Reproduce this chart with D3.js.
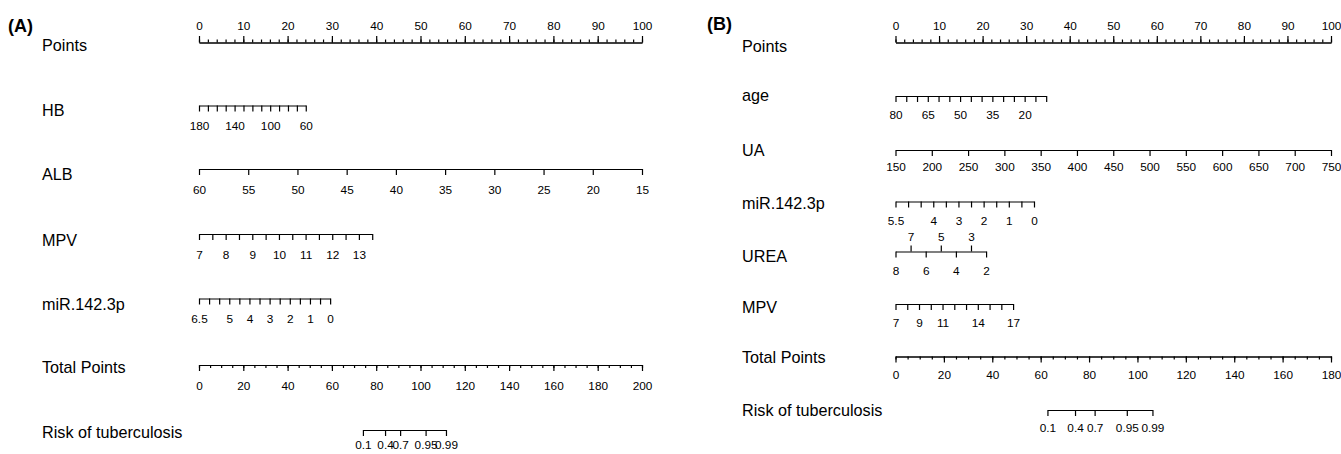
<!DOCTYPE html>
<html><head><meta charset="utf-8">
<script src="https://cdn.jsdelivr.net/npm/d3@7"></script>
<style>
body{margin:0;background:#fff;}
svg text{font-family:"Liberation Sans",Arial,sans-serif;fill:#000;}
</style></head><body><svg id="c" width="1341" height="454"></svg>
<script>
// ---------- Panel A data ----------
const aPointsLabels=[0,10,20,30,40,50,60,70,80,90,100];
const aHbTicks=[180,170,160,150,140,130,120,110,100,90,80,70,60];
const aHbLabels=[180,140,100,60];
const aHbPoints=[0,24.1];
const aAlbTicks=[60,55,50,45,40,35,30,25,20,15];
const aAlbLabels=[60,55,50,45,40,35,30,25,20,15];
const aAlbPoints=[0,100];
const aMpvTicks=[7,7.5,8,8.5,9,9.5,10,10.5,11,11.5,12,12.5,13,13.5];
const aMpvLabels=[7,8,9,10,11,12,13];
const aMpvPoints=[0,39.1];
const aMirTicks=[6.5,6,5.5,5,4.5,4,3.5,3,2.5,2,1.5,1,0.5,0];
const aMirLabels=[6.5,5,4,3,2,1,0];
const aMirPoints=[0,29.6];
const aTotalLabels=[0,20,40,60,80,100,120,140,160,180,200];
const aRiskLabels=["0.1","0.4","0.7","0.95","0.99"];
const aRiskTotal=[74,84,90.8,102.3,111.5];

// ---------- Panel B data ----------
const bPointsLabels=[0,10,20,30,40,50,60,70,80,90,100];
const bAgeTicks=[80,75,70,65,60,55,50,45,40,35,30,25,20,15,10];
const bAgeLabels=[80,65,50,35,20];
const bAgePoints=[0,34.6];
const bUaTicks=[150,200,250,300,350,400,450,500,550,600,650,700,750];
const bUaLabels=[150,200,250,300,350,400,450,500,550,600,650,700,750];
const bUaPoints=[0,100];
const bMirTicks=[5.5,5,4.5,4,3.5,3,2.5,2,1.5,1,0.5,0];
const bMirLabels=[5.5,4,3,2,1,0];
const bMirPoints=[0,31.8];
const bUreaTicksDown=[8,6,4,2];
const bUreaTicksUp=[7,5,3];
const bUreaPoints=[0,20.8];
const bMpvTicks=[7,8,9,10,11,12,13,14,15,16,17];
const bMpvLabels=[7,9,11,14,17];
const bMpvPoints=[0,27];
const bTotalLabels=[0,20,40,60,80,100,120,140,160,180];
const bRiskLabels=["0.1","0.4","0.7","0.95","0.99"];
const bRiskTotal=[62.8,74.2,82.3,95.6,106.2];

const svg=d3.select("#c");
const INK="#000";

function style(g){
  g.selectAll("path,line").attr("stroke",INK).attr("stroke-width",1.2);
  g.selectAll("text").attr("fill",INK).attr("font-size",11.8)
   .attr("font-family","'Liberation Sans',Arial,sans-serif");
  return g;
}
function label(x,y,t,size=16.2){
  svg.append("text").attr("x",x).attr("y",y).attr("dominant-baseline","central")
    .attr("font-size",size).attr("fill","#111").text(t);
}
function varAxis(y,scale,ticks,labels,up,pad){
  const ax=(up?d3.axisTop:d3.axisBottom)(scale).tickValues(ticks).tickSize(6)
    .tickSizeOuter(0).tickPadding(pad).tickFormat(d=>labels.includes(d)?String(d):"");
  const g=svg.append("g").attr("transform",`translate(0,${y})`).call(ax);
  style(g);
  return g;
}
function valScale(pts,v0,v1,pp){
  return d3.scaleLinear().domain([v0,v1]).range([pts(pp[0]),pts(pp[1])]);
}

function panel(cfg){
  const pts=d3.scaleLinear().domain([0,100]).range([cfg.x0,cfg.x1]);
  const tot=d3.scaleLinear().domain([0,cfg.totalMax]).range([cfg.x0,cfg.x1]);
  svg.append("text").attr("x",cfg.tagX).attr("y",cfg.tagY).attr("dominant-baseline","central")
    .attr("font-size",18).attr("font-weight","bold").text(cfg.tag);
  // Points axis (ticks up)
  const gm=svg.append("g").attr("transform",`translate(0,${cfg.rows[0]})`)
    .call(d3.axisTop(pts).tickValues(d3.range(0,101,2)).tickSize(3).tickSizeOuter(0).tickFormat(""));
  style(gm);
  const gp=svg.append("g").attr("transform",`translate(0,${cfg.rows[0]})`)
    .call(d3.axisTop(pts).tickValues(cfg.pointsLabels).tickSize(6.5).tickSizeOuter(0).tickPadding(6));
  style(gp);
  label(cfg.labX,cfg.labY[0],"Points");
  cfg.vars.forEach((v,i)=>{
    const y=cfg.rows[i+1];
    const s=valScale(pts,v.ticks[0],v.ticks[v.ticks.length-1],v.points);
    const pad=v.pad!==undefined?v.pad:cfg.pad;
    if(v.up){
      varAxis(y,s,v.ticks,v.ticks,false,pad);
      const g2=varAxis(y,s.copy(),v.up,v.up,true,5);
      g2.select(".domain").remove();
    } else {
      varAxis(y,s,v.ticks,v.labels,false,pad);
    }
    label(cfg.labX,cfg.labY[i+1],v.name);
  });
  // Total points
  const yT=cfg.rows[cfg.vars.length+1];
  const gt1=svg.append("g").attr("transform",`translate(0,${yT})`)
    .call(d3.axisBottom(tot).tickValues(d3.range(0,cfg.totalMax+1,5)).tickSize(3).tickSizeOuter(0).tickFormat(""));
  style(gt1);
  const gt2=svg.append("g").attr("transform",`translate(0,${yT})`)
    .call(d3.axisBottom(tot).tickValues(cfg.totalLabels).tickSize(6).tickSizeOuter(0).tickPadding(cfg.totPad));
  style(gt2);
  label(cfg.labX,cfg.labY[cfg.vars.length+1],"Total Points");
  // Risk
  const yR=cfg.rows[cfg.vars.length+2];
  const rt=cfg.riskTotal;
  const rs=d3.scaleLinear().domain([rt[0],rt[rt.length-1]]).range([tot(rt[0]),tot(rt[rt.length-1])]);
  const gr=svg.append("g").attr("transform",`translate(0,${yR})`)
    .call(d3.axisBottom(rs).tickValues(rt).tickSize(6).tickSizeOuter(0).tickPadding(cfg.riskPad)
      .tickFormat((d,i)=>cfg.riskLabels[i]));
  style(gr);
  label(cfg.labX,cfg.labY[cfg.vars.length+2],"Risk of tuberculosis");
}

panel({
  tag:"(A)",tagX:8,tagY:26,labX:42,x0:199,x1:642,totalMax:200,pad:10.5,totPad:10.5,riskPad:5,
  pointsLabels:aPointsLabels,totalLabels:aTotalLabels,riskLabels:aRiskLabels,riskTotal:aRiskTotal,
  rows:[42.5,105.5,169,234,298.5,365,430],
  labY:[45,110,174,240,304,367,432],
  vars:[
    {name:"HB",ticks:aHbTicks,labels:aHbLabels,points:aHbPoints},
    {name:"ALB",ticks:aAlbTicks,labels:aAlbLabels,points:aAlbPoints},
    {name:"MPV",ticks:aMpvTicks,labels:aMpvLabels,points:aMpvPoints},
    {name:"miR.142.3p",ticks:aMirTicks,labels:aMirLabels,points:aMirPoints}
  ]
});
panel({
  tag:"(B)",tagX:707,tagY:24,labX:742,x0:895.5,x1:1331,totalMax:180,pad:9,totPad:8.5,riskPad:8,
  pointsLabels:bPointsLabels,totalLabels:bTotalLabels,riskLabels:bRiskLabels,riskTotal:bRiskTotal,
  rows:[42.5,96,150,201.5,251.5,304,356.5,410],
  labY:[46,95,150,203,256,307,357,410],
  vars:[
    {name:"age",ticks:bAgeTicks,labels:bAgeLabels,points:bAgePoints},
    {name:"UA",ticks:bUaTicks,labels:bUaLabels,points:bUaPoints,pad:6.5},
    {name:"miR.142.3p",ticks:bMirTicks,labels:bMirLabels,points:bMirPoints},
    {name:"UREA",ticks:bUreaTicksDown,labels:bUreaTicksDown,points:bUreaPoints,up:bUreaTicksUp},
    {name:"MPV",ticks:bMpvTicks,labels:bMpvLabels,points:bMpvPoints}
  ]
});
</script></body></html>
